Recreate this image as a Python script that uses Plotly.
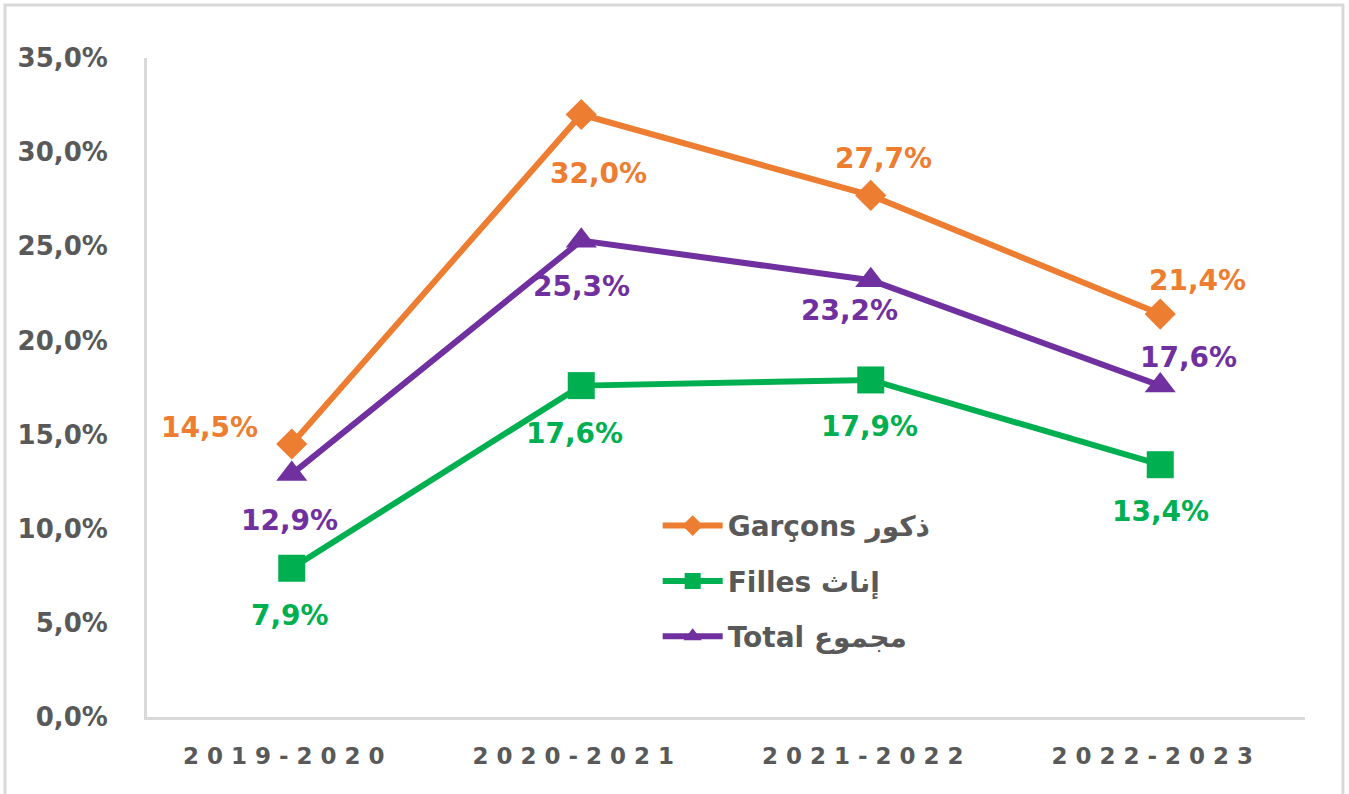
import plotly.graph_objects as go

categories = ["2019-2020", "2020-2021", "2021-2022", "2022-2023"]
garcons = [14.5, 32.0, 27.7, 21.4]
filles = [7.9, 17.6, 17.9, 13.4]
total = [12.9, 25.3, 23.2, 17.6]
series_names = ["Garçons ذكور", "Filles إناث", "Total مجموع"]
y_ticks = [0, 5, 10, 15, 20, 25, 30, 35]

ORANGE = "#ED7D31"
GREEN = "#00B050"
PURPLE = "#7030A0"
GRAY = "#595959"
FONT = "DejaVu Sans"

def fmt(v):
    return f"{v:.1f}".replace(".", ",") + "%"

def spaced(s):
    return " ".join(list(s)) + "\u2002\u2009"

fig = go.Figure()
series = [
    (garcons, series_names[0], ORANGE, "diamond", 24),
    (filles, series_names[1], GREEN, "square", 27),
    (total, series_names[2], PURPLE, "triangle-up", 27),
]
for i, (vals, name, col, sym, ms) in enumerate(series):
    fig.add_trace(go.Scatter(
        x=categories, y=vals, name=name, mode="lines+markers",
        line=dict(color=col, width=6),
        marker=dict(symbol=sym, size=ms, color=col),
        legendgroup=f"g{i}",
    ))

# label offsets (xshift, yshift) per point
offsets = {
    0: [(-82, 16), (17, -59), (13, 37), (37, 34)],
    1: [(-2, -47), (-7, -48), (-1, -47), (0, -47)],
    2: [(-2, -46), (0, -46), (-21, -30), (28, 28)],
}
for i, (vals, name, col, sym, ms) in enumerate(series):
    for j, (c, v) in enumerate(zip(categories, vals)):
        dx, dy = offsets[i][j]
        fig.add_annotation(
            x=c, y=v, text=fmt(v), showarrow=False,
            xshift=dx, yshift=dy,
            font=dict(family=FONT, size=28, color=col, weight="bold"),
        )

# outer chart border
fig.add_shape(type="rect", xref="paper", yref="paper",
              x0=-0.1226, x1=1.0328, y0=-0.2, y1=1.0804,
              line=dict(color="#D9D9D9", width=3), layer="below")

fig.update_layout(
    width=1349, height=794,
    margin=dict(l=147, r=44, t=58, b=77),
    paper_bgcolor="white", plot_bgcolor="white",
    font=dict(family=FONT, color=GRAY),
    showlegend=True,
    legend=dict(
        x=0.441, y=0.328, xanchor="left", yanchor="top",
        bgcolor="rgba(0,0,0,0)",
        font=dict(family=FONT, size=28, color=GRAY, weight="bold"),
        tracegroupgap=16, itemwidth=60,
    ),
    xaxis=dict(
        type="category",
        tickvals=categories,
        ticktext=[spaced(c) for c in categories],
        tickfont=dict(family=FONT, size=23, color=GRAY, weight="bold"),
        showgrid=False, showline=True, linecolor="#D9D9D9", linewidth=3,
        ticks="", ticklabelstandoff=16,
        range=[-0.5, 3.5],
    ),
    yaxis=dict(
        range=[0, 35],
        tickvals=y_ticks,
        ticktext=[fmt(t) for t in y_ticks],
        tickfont=dict(family=FONT, size=26, color=GRAY, weight="bold"),
        showgrid=False, showline=True, linecolor="#D9D9D9", linewidth=3,
        ticks="", ticklabelstandoff=31, zeroline=False,
    ),
)

fig.write_html("out.html", config={"displayModeBar": False},
               post_script="document.body.style.margin='0';")
